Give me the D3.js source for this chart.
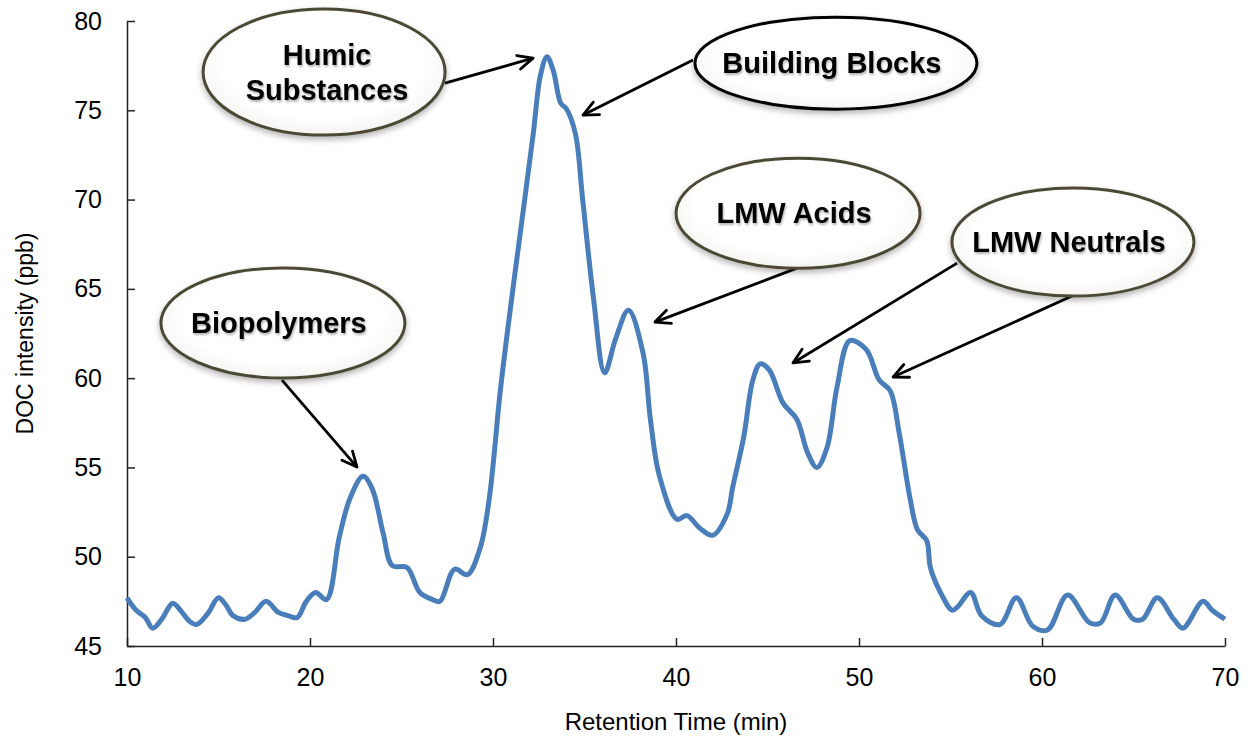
<!DOCTYPE html>
<html>
<head>
<meta charset="utf-8">
<script src="https://cdn.jsdelivr.net/npm/d3@7"></script>
<style>
  html, body { margin: 0; padding: 0; background: #fff; }
  svg { display: block; font-family: "Liberation Sans", Arial, sans-serif; }
</style>
</head>
<body>
<svg id="chart" width="1250" height="742"></svg>
<script>
// ---- data ----
const retentionTime = [10.0,10.5,11.0,11.4,11.9,12.5,13.0,13.4,13.8,14.4,15.0,15.4,15.8,16.45,17.0,17.6,18.25,18.8,19.3,19.8,20.3,20.9,21.6,22.2,22.9,23.4,24.0,24.5,25.3,26.0,26.7,27.1,27.9,28.6,29.3,29.8,30.4,31.0,31.5,32.2,32.6,32.95,33.3,33.7,34.0,34.5,34.9,35.5,36.1,36.7,37.4,38.2,38.6,39.1,40.05,40.6,41.3,42.0,42.8,43.1,43.7,44.2,44.6,45.1,45.85,46.6,47.2,47.7,48.25,48.8,49.5,50.4,51.1,51.7,52.2,52.8,53.2,53.7,53.9,54.4,55.1,55.4,56.1,56.7,57.7,58.6,59.5,60.3,61.4,62.6,63.2,64.0,65.0,65.5,66.3,67.2,67.7,68.8,69.3,70.0];
const docIntensity = [47.7,47.0,46.6,46.0,46.5,47.4,46.9,46.4,46.2,46.8,47.7,47.3,46.7,46.5,46.9,47.5,46.9,46.7,46.6,47.5,48.0,47.6,51.1,53.3,54.5,53.8,51.3,49.5,49.4,48.0,47.6,47.5,49.3,49.0,50.5,53.3,59.3,64.3,68.2,73.7,77.0,78.0,77.2,75.4,75.1,73.7,70.0,64.4,60.3,62.2,63.8,61.4,57.7,54.5,52.1,52.3,51.6,51.2,52.4,53.9,56.7,59.9,60.8,60.45,58.6,57.7,55.8,55.0,56.1,59.5,62.1,61.6,59.9,59.3,56.9,53.2,51.5,50.9,49.4,48.1,47.0,47.2,48.0,46.7,46.2,47.7,46.1,45.9,47.85,46.3,46.3,47.85,46.5,46.5,47.7,46.5,46.0,47.5,47.0,46.5];

const xTicks = [10,20,30,40,50,60,70];
const yTicks = [45,50,55,60,65,70,75,80];
const xTitle = "Retention Time (min)";
const yTitle = "DOC intensity (ppb)";

// annotation labels (lines), bubble centre in data units
const annoLabels = [["Humic","Substances"],["Biopolymers"],["Building Blocks"],["LMW Acids"],["LMW Neutrals"]];
const annoCenterX = [20.77, 18.52, 48.74, 46.67, 61.69];
const annoCenterY = [77.14, 63.09, 77.64, 69.24, 67.62];
// arrows: from / to in data units
const arrowFrom = [[27.38,76.52],[18.47,59.89],[40.93,77.81],[46.61,66.16],[55.36,66.44],[61.64,64.6]];
const arrowTo   = [[32.19,77.92],[22.57,55.02],[34.92,74.73],[38.85,63.14],[46.39,60.85],[51.86,60.06]];

(function(){
// ---- layout ----
const svg = d3.select("#chart");
const pL = 127, pR = 1225, pT = 21, pB = 646;
const x = d3.scaleLinear().domain([10,70]).range([pL,pR]);
const y = d3.scaleLinear().domain([45,80]).range([pB,pT]);

const defs = svg.append("defs");
const grad = defs.append("radialGradient").attr("id","bub").attr("cx","50%").attr("cy","45%").attr("r","55%");
grad.append("stop").attr("offset","75%").attr("stop-color","#ffffff");
grad.append("stop").attr("offset","100%").attr("stop-color","#f4f4f1");
const sh = defs.append("filter").attr("id","shadow").attr("x","-20%").attr("y","-20%").attr("width","140%").attr("height","150%");
sh.append("feGaussianBlur").attr("in","SourceAlpha").attr("stdDeviation",3);
sh.append("feOffset").attr("dx",0).attr("dy",3);
sh.append("feComponentTransfer").append("feFuncA").attr("type","linear").attr("slope",0.3);
const m = sh.append("feMerge");
m.append("feMergeNode");
m.append("feMergeNode").attr("in","SourceGraphic");
const tsh = defs.append("filter").attr("id","tshadow").attr("x","-10%").attr("y","-30%").attr("width","120%").attr("height","160%");
tsh.append("feGaussianBlur").attr("in","SourceAlpha").attr("stdDeviation",1.2);
tsh.append("feOffset").attr("dx",1).attr("dy",1.5);
tsh.append("feComponentTransfer").append("feFuncA").attr("type","linear").attr("slope",0.3);
const m2 = tsh.append("feMerge");
m2.append("feMergeNode");
m2.append("feMergeNode").attr("in","SourceGraphic");

defs.append("marker").attr("id","arrow").attr("viewBox","0 0 20 20").attr("refX",18).attr("refY",10)
  .attr("markerWidth",20).attr("markerHeight",20).attr("markerUnits","userSpaceOnUse").attr("orient","auto")
  .append("path").attr("d","M3,3 L18,10 L3,17").attr("fill","none").attr("stroke","#000").attr("stroke-width",2.8)
  .attr("stroke-linecap","round").attr("stroke-linejoin","round");

// axes
const xAxis = d3.axisBottom(x).tickValues(xTicks).tickSizeInner(-8).tickSizeOuter(0).tickPadding(22);
const yAxis = d3.axisLeft(y).tickValues(yTicks).tickSizeInner(-8).tickSizeOuter(0).tickPadding(25);
const gx = svg.append("g").attr("transform",`translate(0,${pB})`).call(xAxis);
const gy = svg.append("g").attr("transform",`translate(${pL},0)`).call(yAxis);
[gx,gy].forEach(g=>{
  g.select(".domain").attr("stroke","#222").attr("stroke-width",1.5);
  g.selectAll(".tick line").attr("stroke","#222").attr("stroke-width",1.5);
  g.selectAll(".tick text").attr("fill","#000").style("font-size","25px").style("font-family","'Liberation Sans', Arial, sans-serif");
});

svg.append("text").attr("x",(pL+pR)/2).attr("y",730).attr("text-anchor","middle")
  .style("font-size","24px").text(xTitle);
svg.append("text").attr("transform",`translate(33,${(pT+pB)/2}) rotate(-90)`).attr("text-anchor","middle")
  .style("font-size","23px").text(yTitle);

// series
const pts = retentionTime.map((t,i)=>[t, docIntensity[i]]);
svg.append("path").datum(pts)
  .attr("fill","none").attr("stroke","#4a7ebb").attr("stroke-width",5).attr("stroke-linejoin","round")
  .attr("d", d3.line().x(d=>x(d[0])).y(d=>y(d[1])).curve(d3.curveCatmullRom.alpha(0.5)));

// arrows
svg.append("g").selectAll("line").data(arrowFrom).join("line")
  .attr("x1",d=>x(d[0])).attr("y1",d=>y(d[1]))
  .attr("x2",(d,i)=>x(arrowTo[i][0])).attr("y2",(d,i)=>y(arrowTo[i][1]))
  .attr("stroke","#000").attr("stroke-width",2.8).attr("marker-end","url(#arrow)");

// bubbles
const rxs = [121,122,141,122,121], rys = [63,55,46,55,54];
const strokes = ["#4b4a35","#4b4a35","#000","#4b4a35","#4b4a35"];
const bg = svg.append("g").selectAll("g").data(annoLabels).join("g");
bg.append("ellipse")
  .attr("cx",(d,i)=>x(annoCenterX[i])).attr("cy",(d,i)=>y(annoCenterY[i]))
  .attr("rx",(d,i)=>rxs[i]).attr("ry",(d,i)=>rys[i])
  .attr("fill","url(#bub)").attr("stroke",(d,i)=>strokes[i]).attr("stroke-width",3)
  .attr("filter","url(#shadow)");
bg.each(function(lines,i){
  const g = d3.select(this);
  const cx = x(annoCenterX[i]) + (i===0?3:-4), cy = y(annoCenterY[i]);
  const lh = 35;
  lines.forEach((ln,k)=>{
    g.append("text").attr("x",cx).attr("y", cy + (k-(lines.length-1)/2)*lh + 10)
      .attr("text-anchor","middle").style("font-size","29px").style("font-weight","bold")
      .attr("fill","#000").attr("filter","url(#tshadow)").text(ln);
  });
});
})();
</script>
</body>
</html>
